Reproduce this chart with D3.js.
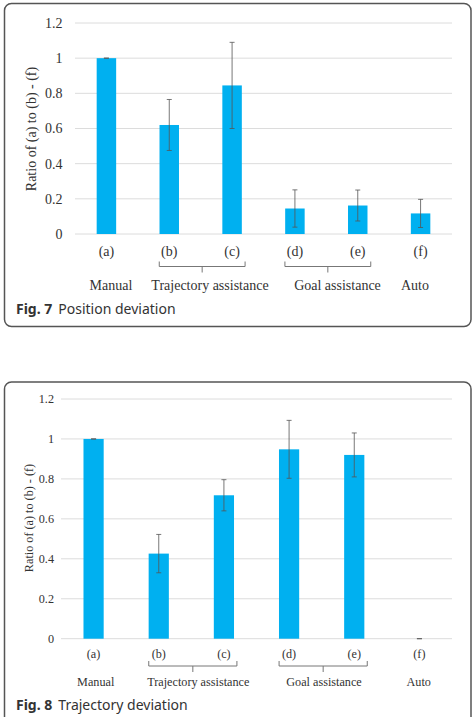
<!DOCTYPE html>
<html>
<head>
<meta charset="utf-8">
<script src="https://d3js.org/d3.v7.min.js"></script>
<style>
  body { margin: 0; background: #fff; }
  svg { display: block; }
  .tick-label, .cat-label, .grp-label, .y-title { font-family: "Liberation Serif", "Times New Roman", serif; fill: #333; }
  .caption { font-family: "Noto Sans", "Open Sans", sans-serif; fill: #333; }
</style>
</head>
<body>
<svg width="475" height="717"></svg>
<script>
// data
var categories = ["(a)", "(b)", "(c)", "(d)", "(e)", "(f)"];
var groupNames = ["Manual", "Trajectory assistance", "Goal assistance", "Auto"];
var yTicks = [0, 0.2, 0.4, 0.6, 0.8, 1, 1.2];

var positionValues = [1.0, 0.62, 0.845, 0.145, 0.162, 0.117];
var positionErrors = [0, 0.145, 0.245, 0.106, 0.088, 0.08];

var trajectoryValues = [1.0, 0.426, 0.718, 0.948, 0.92, 0];
var trajectoryErrors = [0, 0.096, 0.078, 0.145, 0.11, 0];

// which categories each bracket spans
var brackets = [["(b)", "(c)"], ["(d)", "(e)"]];

var svg = d3.select("svg");

function drawPanel(p) {
  var g = svg.append("g");

  // frame
  g.append("rect")
    .attr("x", 4.5).attr("y", p.boxTop)
    .attr("width", 466.5).attr("height", p.boxHeight)
    .attr("rx", 7)
    .attr("fill", "none").attr("stroke", "#555").attr("stroke-width", 1.5);

  var x = d3.scaleBand().domain(categories).range([p.left, 452]).paddingInner(0.69).paddingOuter(0.345);
  var y = d3.scaleLinear().domain([0, 1.2]).range([p.bottom, p.top]);
  var cx = function(d) { return x(d) + x.bandwidth() / 2; };

  // gridlines
  g.selectAll(".grid").data(yTicks).enter().append("line")
    .attr("x1", p.left).attr("x2", 452)
    .attr("y1", function(d) { return y(d); }).attr("y2", function(d) { return y(d); })
    .attr("stroke", "#dcdcdc").attr("stroke-width", 1);

  g.selectAll(".tick-label").data(yTicks).enter().append("text")
    .attr("class", "tick-label")
    .attr("x", p.left - p.tickGap)
    .attr("y", function(d) { return y(d); })
    .attr("dy", "0.35em")
    .attr("text-anchor", "end")
    .attr("font-size", p.fs)
    .text(function(d) { return d; });

  g.append("text")
    .attr("class", "y-title")
    .attr("transform", "translate(" + p.titleX + "," + p.titleY + ") rotate(-90)")
    .attr("text-anchor", "middle")
    .attr("dy", "0.35em")
    .attr("font-size", p.fs)
    .text("Ratio of (a) to (b) - (f)");

  // bars
  g.selectAll(".bar").data(p.values).enter().append("rect")
    .attr("x", function(d, i) { return x(categories[i]); })
    .attr("width", x.bandwidth())
    .attr("y", function(d) { return y(d); })
    .attr("height", function(d) { return y(0) - y(d); })
    .attr("fill", "#00b0f0");

  // error bars
  var eb = g.selectAll(".err").data(p.values).enter().append("g")
    .attr("transform", function(d, i) { return "translate(" + cx(categories[i]) + ",0)"; });
  eb.append("line")
    .attr("y1", function(d, i) { return y(d + p.errors[i]); })
    .attr("y2", function(d, i) { return y(d - p.errors[i]); })
    .attr("stroke", "#555").attr("stroke-width", 0.8);
  eb.selectAll(".cap").data(function(d, i) { return [d + p.errors[i], d - p.errors[i]]; })
    .enter().append("line")
    .attr("x1", -2.5).attr("x2", 2.5)
    .attr("y1", function(d) { return y(d); }).attr("y2", function(d) { return y(d); })
    .attr("stroke", "#555").attr("stroke-width", 0.8);

  // category labels
  g.selectAll(".cat-label").data(categories).enter().append("text")
    .attr("class", "cat-label")
    .attr("x", cx)
    .attr("y", p.catY)
    .attr("dy", "0.35em")
    .attr("text-anchor", "middle")
    .attr("font-size", p.fs)
    .text(function(d) { return d; });

  // brackets under the paired categories
  brackets.forEach(function(b) {
    var x0 = cx(b[0]) - 10, x1 = cx(b[1]) + 13, xm = (x0 + x1) / 2;
    var yb = p.bracketY;
    g.append("path")
      .attr("d", "M" + x0 + "," + (yb - 5) + "V" + yb + "H" + x1 + "V" + (yb - 5) + "M" + xm + "," + yb + "v6")
      .attr("fill", "none").attr("stroke", "#777").attr("stroke-width", 1);
  });

  g.selectAll(".grp-label").data(groupNames).enter().append("text")
    .attr("class", "grp-label")
    .attr("x", function(d, i) { return p.groupX[i]; })
    .attr("y", p.groupY)
    .attr("dy", "0.35em")
    .attr("text-anchor", "middle")
    .attr("font-size", p.fs)
    .text(function(d) { return d; });

  var cap = g.append("text").attr("class", "caption")
    .attr("x", 16).attr("y", p.captionY).attr("dy", "0.35em").attr("font-size", 14);
  cap.append("tspan").attr("font-weight", "bold").text(p.fig);
  cap.append("tspan").attr("dx", 6).text(p.caption);
}

drawPanel({
  boxTop: 3.5, boxHeight: 323, left: 75, top: 23, bottom: 234, fs: 14, tickGap: 12.5,
  titleX: 31, titleY: 129,
  values: positionValues, errors: positionErrors,
  catY: 251.5, bracketY: 266.5, groupY: 285, groupX: [111, 210, 337.5, 415],
  captionY: 309, fig: "Fig. 7", caption: "Position deviation"
});

drawPanel({
  boxTop: 382, boxHeight: 360, left: 61, top: 399, bottom: 638.7, fs: 12.2, tickGap: 7,
  titleX: 29, titleY: 518,
  values: trajectoryValues, errors: trajectoryErrors,
  catY: 654, bracketY: 666, groupY: 682, groupX: [95.7, 198.3, 324, 418.7],
  captionY: 705, fig: "Fig. 8", caption: "Trajectory deviation"
});
</script>
</body>
</html>
